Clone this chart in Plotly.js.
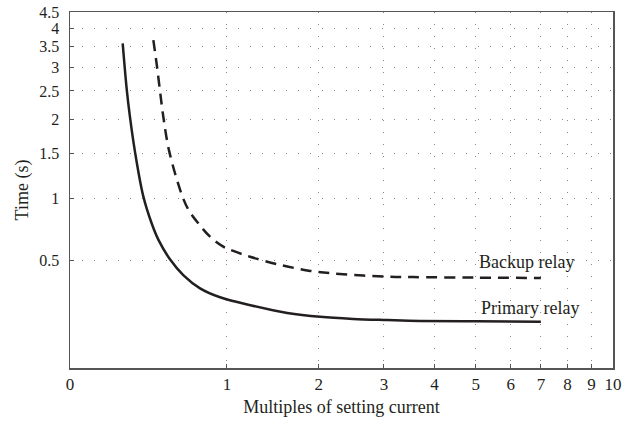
<!DOCTYPE html>
<html>
<head>
<meta charset="utf-8">
<script src="https://cdn.plot.ly/plotly-3.0.1.min.js"></script>
<style>html,body{margin:0;padding:0;background:#fff;}#chart{width:634px;height:424px;}</style>
</head>
<body>
<div id="chart"></div>
<script>
// Multiples of setting current and operating time (s)
const primaryMultiples = [0.262, 0.285, 0.303, 0.332, 0.382, 0.434, 0.478, 0.555, 0.649, 0.776, 0.94, 1.24, 1.61, 2.02, 2.49, 3.06, 3.69, 5.0, 7.0];
const primaryTime      = [3.58, 2.52, 2.04, 1.53, 1.02, 0.775, 0.645, 0.51, 0.412, 0.337, 0.29, 0.248, 0.214, 0.196, 0.187, 0.182, 0.178, 0.176, 0.174];

const backupMultiples = [0.445, 0.467, 0.488, 0.51, 0.55, 0.642, 0.688, 0.762, 0.856, 0.968, 1.057, 1.214, 1.50, 1.89, 2.34, 3.06, 3.55, 5.0, 7.0];
const backupTime      = [3.67, 3.05, 2.5, 2.04, 1.53, 1.02, 0.89, 0.775, 0.669, 0.596, 0.566, 0.527, 0.478, 0.437, 0.417, 0.403, 0.40, 0.397, 0.395];

const xTickLabels = [0, 1, 2, 3, 4, 5, 6, 7, 8, 9, 10];
const yTickLabels = [0.5, 1, 1.5, 2, 2.5, 3, 3.5, 4, 4.5];
const seriesNames = ["Primary relay", "Backup relay"];

// axes are logarithmic in (value + offset)
const X_OFFSET = 1;
const Y_OFFSET = 0.5;
const ox = a => a.map(v => v + X_OFFSET);
const oy = a => a.map(v => v + Y_OFFSET);

const ink = '#231f20';
const fontFam = '"Liberation Serif", "DejaVu Serif", serif';

const traces = [
  {x: ox(primaryMultiples), y: oy(primaryTime), name: seriesNames[0], mode: 'lines',
   line: {color: ink, width: 2.5, shape: 'spline', smoothing: 1}, hoverinfo: 'skip'},
  {x: ox(backupMultiples), y: oy(backupTime), name: seriesNames[1], mode: 'lines',
   line: {color: ink, width: 2.5, dash: '11px,7px', shape: 'spline', smoothing: 1}, hoverinfo: 'skip'}
];

const layout = {
  width: 634, height: 424,
  margin: {l: 70, r: 21, t: 12, b: 56},
  paper_bgcolor: '#fff', plot_bgcolor: '#fff',
  showlegend: false,
  font: {family: fontFam, color: ink, size: 16},
  xaxis: {
    type: 'log',
    range: [Math.log10(xTickLabels[0] + X_OFFSET), Math.log10(xTickLabels[xTickLabels.length - 1] + X_OFFSET)],
    tickmode: 'array', tickvals: ox(xTickLabels), ticktext: xTickLabels.map(String),
    ticks: 'inside', ticklen: 4, tickcolor: '#555', tickwidth: 1,
    showline: true, mirror: true, linecolor: '#555', linewidth: 1.5,
    showgrid: true, gridcolor: '#888', gridwidth: 1, griddash: '1px,11px',
    zeroline: false, ticklabelstandoff: 0,
    tickfont: {family: fontFam, size: 17, color: ink},
    title: {text: 'Multiples of setting current', font: {family: fontFam, size: 18, color: ink}, standoff: 7}
  },
  yaxis: {
    type: 'log',
    range: [Math.log10(0 + Y_OFFSET), Math.log10(yTickLabels[yTickLabels.length - 1] + Y_OFFSET)],
    tickmode: 'array', tickvals: oy(yTickLabels), ticktext: yTickLabels.map(String),
    ticks: 'inside', ticklen: 4, tickcolor: '#555', tickwidth: 1,
    showline: true, mirror: true, linecolor: '#555', linewidth: 1.5,
    showgrid: true, gridcolor: '#888', gridwidth: 1, griddash: '1px,11px',
    zeroline: false, ticklabelstandoff: 6,
    tickfont: {family: fontFam, size: 16, color: ink},
    title: {text: 'Time (s)', font: {family: fontFam, size: 18, color: ink}, standoff: 6}
  },
  annotations: [
    {xref: 'paper', yref: 'paper', x: 0.84, y: 0.298, xanchor: 'center', yanchor: 'middle',
     text: seriesNames[1], showarrow: false, font: {family: fontFam, size: 18, color: ink}},
    {xref: 'paper', yref: 'paper', x: 0.847, y: 0.169, xanchor: 'center', yanchor: 'middle',
     text: seriesNames[0], showarrow: false, font: {family: fontFam, size: 18, color: ink}}
  ]
};

Plotly.newPlot('chart', traces, layout, {staticPlot: true, displayModeBar: false});
</script>
</body>
</html>
